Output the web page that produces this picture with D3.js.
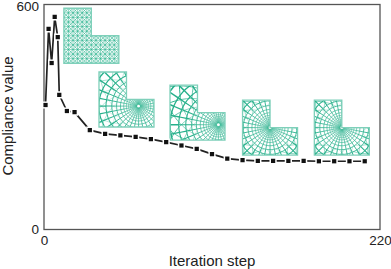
<!DOCTYPE html>
<html>
<head>
<meta charset="utf-8">
<script src="https://cdn.jsdelivr.net/npm/d3@7"></script>
<style>
  html, body { margin: 0; padding: 0; background: #fff; }
  svg { display: block; }
  text { font-family: "Liberation Sans", Arial, sans-serif; fill: #222; }
</style>
</head>
<body>
<div id="chart"></div>
<script>
var svgWidth = 391;
var svgHeight = 269;

var margin = { top: 4.5, right: 11, bottom: 39.5, left: 44 };

var width = svgWidth - margin.left - margin.right;
var height = svgHeight - margin.top - margin.bottom;

// Convergence curve
var steps = [1, 3, 5, 7, 9, 10, 15, 20, 30, 40, 50, 60, 70, 80, 90, 100, 110, 120, 130, 140, 150, 160, 170, 180, 190, 200, 210];
var compliance = [332, 535, 444, 567, 513, 359, 316, 313, 265, 255, 251, 247, 241, 233, 224, 215, 201, 189, 185, 183, 183, 183, 183, 182, 182, 182, 182];

var xTicks = [0, 220];
var yTicks = [0, 600];

// Mesh insets: top left corner in chart units, then where the mesh bunches up
var meshStep = [13, 36, 82.5, 130, 177];
var meshValue = [590, 420, 385, 345, 345];
var meshFocusX = [0, 0.72, 0.88, 0.5, 0.5];
var meshFocusY = [0, 0.62, 0.72, 0.5, 0.5];
var meshDiagonal = [0, 0.5, 0.9, 1, 1];

var meshColor = "#27b08b";
var meshSize = 55;

var svg = d3.select("#chart")
  .append("svg")
  .attr("width", svgWidth)
  .attr("height", svgHeight);

var soften = svg.append("filter").attr("id", "soften");
soften.append("feGaussianBlur").attr("stdDeviation", 0.25);

var chartGroup = svg.append("g")
  .attr("transform", `translate(${margin.left}, ${margin.top})`);

var xScale = d3.scaleLinear().domain([0, 220]).range([0, width]);
var yScale = d3.scaleLinear().domain([0, 600]).range([height, 0]);

// Axes only carry the labels, the frame is a plain rect
var bottomAxis = d3.axisBottom(xScale).tickValues(xTicks).tickSize(0).tickPadding(6);
var leftAxis = d3.axisLeft(yScale).tickValues(yTicks).tickSize(0).tickPadding(5);

var xAxisGroup = chartGroup.append("g")
  .attr("transform", `translate(0, ${height})`)
  .call(bottomAxis);
var yAxisGroup = chartGroup.append("g").call(leftAxis);

[xAxisGroup, yAxisGroup].forEach(function(g) {
  g.select(".domain").remove();
  g.selectAll("text").attr("font-size", 13.5).attr("fill", "#222");
});
yAxisGroup.selectAll("text").attr("dy", function(d) { return d === 600 ? "0.45em" : "0.3em"; });

chartGroup.append("rect")
  .attr("width", width)
  .attr("height", height)
  .attr("fill", "none")
  .attr("stroke", "#555")
  .attr("stroke-width", 1.3);

// L shape in unit coordinates, the top right quarter is cut away
var lShape = [[0, 0], [0.5, 0], [0.5, 0.5], [1, 0.5], [1, 1], [0, 1]];

function drawMesh(i) {
  var g = chartGroup.append("g")
    .attr("filter", "url(#soften)")
    .attr("transform", `translate(${xScale(meshStep[i])}, ${yScale(meshValue[i])})`);
  var unit = d3.scaleLinear().domain([0, 1]).range([0, meshSize]);
  var line = d3.line().x(d => unit(d[0])).y(d => unit(d[1]));
  var outline = line(lShape) + "Z";

  g.append("clipPath").attr("id", "mesh" + i).append("path").attr("d", outline);
  var inner = g.append("g").attr("clip-path", `url(#mesh${i})`);

  function stroke(points, w) {
    inner.append("path")
      .attr("d", line(points))
      .attr("fill", "none")
      .attr("stroke", meshColor)
      .attr("stroke-width", w);
  }

  if (i === 0) {
    // starting design: even grid with diagonals
    var n = 12;
    d3.range(n + 1).forEach(function(k) {
      var t = k / n;
      stroke([[t, 0], [t, 1]], 0.5);
      stroke([[0, t], [1, t]], 0.5);
    });
    d3.range(-n, n + 1).forEach(function(k) {
      var t = k / n;
      stroke([[t, 0], [t + 1, 1]], 0.6);
      stroke([[t, 1], [t + 1, 0]], 0.6);
    });
  } else {
    var fx = meshFocusX[i], fy = meshFocusY[i];
    var rayCount = 32;
    var ratio = Math.exp(-2 * Math.PI / rayCount);
    var rings = d3.range(20).map(k => 1.3 * Math.pow(ratio, k));

    // circles round the focus, thicker further out
    rings.forEach(function(r) {
      var ring = d3.range(0, 121).map(function(a) {
        var th = a / 120 * 2 * Math.PI;
        return [fx + r * Math.cos(th), fy + r * Math.sin(th)];
      });
      stroke(ring, 0.35 + 1.1 * r);
    });

    // spokes out of the focus, split into pieces so the width can grow
    d3.range(rayCount).forEach(function(a) {
      var th = a / rayCount * 2 * Math.PI;
      d3.range(rings.length - 1).forEach(function(k) {
        var r0 = rings[k + 1], r1 = rings[k];
        stroke([[fx + r0 * Math.cos(th), fy + r0 * Math.sin(th)], [fx + r1 * Math.cos(th), fy + r1 * Math.sin(th)]], 0.35 + 1.1 * r1);
      });
    });

    // crossing spirals give the X pattern in the far part of the shape, growing with distance
    d3.range(16).forEach(function(a) {
      [-1, 1].forEach(function(sign) {
        d3.range(0.4, 1.5, 0.05).forEach(function(r) {
          var spiral = [r, r + 0.05].map(function(q) {
            var th = a / 16 * 2 * Math.PI + sign * Math.log(q);
            return [fx + q * Math.cos(th), fy + q * Math.sin(th)];
          });
          stroke(spiral, 1.5 * (r - 0.2) * meshDiagonal[i]);
        });
      });
    });
  }

  g.append("path")
    .attr("d", outline)
    .attr("fill", "none")
    .attr("stroke", "#7fd0ba")
    .attr("stroke-width", 1.3);
}

meshStep.forEach(function(d, i) { drawMesh(i); });

// Curve and its square markers
var curve = d3.line()
  .x(d => xScale(d))
  .y((d, i) => yScale(compliance[i]));

chartGroup.append("path")
  .attr("d", curve(steps))
  .attr("fill", "none")
  .attr("stroke", "#222")
  .attr("stroke-width", 1.7);

var marker = d3.symbol().type(d3.symbolSquare).size(18);

chartGroup.selectAll(".marker")
  .data(steps)
  .enter()
  .append("path")
  .attr("class", "marker")
  .attr("d", marker)
  .attr("transform", (d, i) => `translate(${xScale(d)}, ${yScale(compliance[i])})`)
  .attr("fill", "#111")
  .attr("stroke", "#fff")
  .attr("stroke-width", 3)
  .attr("paint-order", "stroke");

// Axis titles
chartGroup.append("text")
  .attr("transform", `translate(${width / 2}, ${height + 36})`)
  .attr("text-anchor", "middle")
  .attr("font-size", 15)
  .text("Iteration step");

chartGroup.append("text")
  .attr("transform", `translate(-31, ${height / 2 - 1}) rotate(-90)`)
  .attr("text-anchor", "middle")
  .attr("font-size", 15)
  .text("Compliance value");
</script>
</body>
</html>
